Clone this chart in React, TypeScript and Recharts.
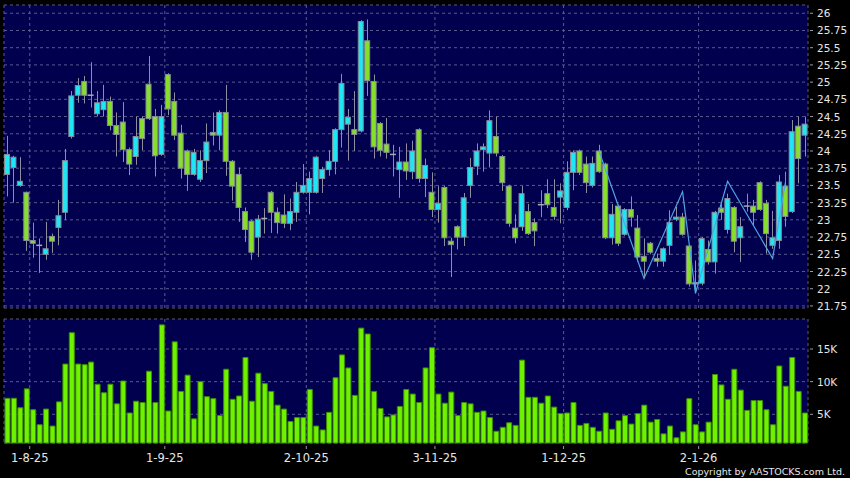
import { Bar, CartesianGrid, ComposedChart, Line, XAxis, YAxis } from 'recharts'

// daily candles, oldest first (one trading day per entry)
const opens = [
  23.66, 23.76, 23.5, 23.4, 22.7, 22.63, 22.5, 22.76, 22.89, 23.11, 24.21, 24.81, 25.01, 24.81, 24.54, 24.6, 24.72, 24.37, 24.42, 24.02,
  23.92, 24.47, 24.97, 24.5, 23.95, 25.11, 24.72, 24.26, 24.0, 23.66, 23.59, 23.86, 24.27, 24.23, 24.56, 23.85, 23.66, 23.12, 22.98, 22.75,
  23.02, 23.4, 23.11, 23.07, 22.95, 23.11, 23.4, 23.4, 23.4, 23.6, 23.73, 23.85, 24.31, 24.39, 24.31, 24.29, 25.6, 25.01, 24.4, 24.1,
  23.95, 23.73, 23.84, 23.7, 24.31, 23.6, 23.4, 23.15, 23.47, 22.69, 22.9, 22.75, 23.5, 23.78, 24.02, 23.97, 24.21, 23.92, 23.49, 22.88,
  22.9, 23.12, 22.96, 23.22, 23.38, 23.18, 23.33, 23.18, 23.69, 24.0, 23.81, 23.5, 24.0, 23.81, 22.74, 23.2, 22.79, 23.15, 22.88, 22.47,
  22.66, 22.44, 22.4, 22.63, 23.01, 23.04, 22.62, 22.07, 22.08, 22.57, 22.39, 23.17, 22.86, 23.18, 22.74, 23.2, 23.2, 23.54, 23.24, 22.63,
  22.7, 23.49, 23.12, 24.36, 24.23,
]
const highs = [
  24.22, 23.93, 23.91, 23.41, 22.96, 22.73, 22.97, 22.8, 23.29, 24.03, 24.87, 25.06, 25.09, 25.29, 24.87, 24.96, 24.79, 24.56, 24.71, 24.05,
  24.5, 24.5, 25.38, 24.61, 24.67, 25.13, 24.85, 24.38, 24.02, 24.03, 24.01, 24.4, 24.56, 24.59, 24.96, 23.87, 23.76, 23.18, 23.0, 23.07,
  23.17, 23.42, 23.18, 23.37, 23.31, 23.55, 23.81, 23.7, 23.93, 23.77, 24.01, 24.33, 25.12, 24.61, 24.87, 25.9, 25.91, 25.11, 24.42, 24.48,
  24.09, 24.06, 24.11, 24.15, 24.33, 23.89, 23.69, 23.49, 23.49, 22.74, 22.92, 23.39, 23.9, 24.11, 24.11, 24.59, 24.5, 23.94, 23.51, 23.08,
  23.49, 23.23, 23.02, 23.43, 23.59, 23.59, 23.53, 23.85, 24.01, 24.02, 23.92, 23.92, 24.09, 23.83, 23.23, 23.22, 23.17, 23.34, 23.07, 22.73,
  22.68, 22.51, 22.6, 23.14, 23.19, 23.1, 22.64, 22.41, 22.75, 22.7, 23.13, 23.24, 23.38, 23.2, 23.04, 23.38, 23.29, 23.56, 23.29, 23.13,
  23.65, 23.7, 24.45, 24.5, 24.5,
]
const lows = [
  23.34, 23.25, 23.48, 22.55, 22.45, 22.23, 22.42, 22.52, 22.63, 23.0, 24.18, 24.7, 24.69, 24.63, 24.5, 24.5, 24.3, 23.92, 23.84, 23.65,
  23.8, 24.01, 24.45, 23.63, 23.93, 24.52, 24.16, 23.6, 23.42, 23.64, 23.55, 23.68, 24.08, 24.01, 23.64, 23.28, 22.97, 22.68, 22.42, 22.46,
  22.8, 22.81, 22.8, 22.88, 22.85, 22.97, 23.38, 23.08, 23.38, 23.39, 23.64, 23.66, 24.05, 23.86, 24.0, 24.27, 24.8, 23.89, 23.92, 23.89,
  23.63, 23.32, 23.58, 23.59, 23.54, 23.33, 23.04, 22.96, 22.62, 22.17, 22.57, 22.62, 23.32, 23.65, 23.7, 23.76, 23.92, 23.42, 22.9, 22.66,
  22.84, 22.78, 22.62, 23.04, 23.17, 23.0, 22.95, 23.14, 23.43, 23.65, 23.39, 23.47, 23.68, 22.72, 22.64, 22.62, 22.77, 22.9, 22.39, 22.15,
  22.5, 22.32, 22.32, 22.49, 22.98, 22.77, 22.03, 21.94, 22.05, 22.35, 22.22, 23.0, 22.8, 22.53, 22.39, 23.12, 22.91, 23.13, 22.51, 22.58,
  22.58, 22.9, 23.1, 23.53, 23.92,
]
const closes = [
  23.95, 23.91, 23.56, 22.7, 22.66, 22.63, 22.58, 22.69, 23.06, 23.86, 24.8, 24.95, 24.81, 24.81, 24.7, 24.72, 24.37, 24.24, 24.02, 23.81,
  24.21, 24.18, 24.47, 23.93, 24.5, 24.61, 24.23, 23.75, 23.66, 23.98, 23.86, 24.13, 24.23, 24.56, 23.85, 23.49, 23.18, 22.86, 22.53, 23.01,
  23.02, 23.11, 22.96, 22.95, 23.12, 23.4, 23.5, 23.6, 23.91, 23.73, 23.85, 24.31, 24.98, 24.49, 24.24, 25.88, 25.02, 24.06, 24.01, 23.98,
  23.95, 23.84, 23.71, 24.0, 23.6, 23.79, 23.15, 23.24, 22.74, 22.64, 22.75, 23.32, 23.76, 24.0, 24.06, 24.44, 23.97, 23.54, 22.95, 22.74,
  23.38, 22.8, 22.84, 23.22, 23.22, 23.05, 23.42, 23.69, 23.98, 23.69, 23.54, 23.82, 23.7, 22.74, 23.08, 22.66, 23.15, 23.04, 22.46, 22.4,
  22.53, 22.4, 22.58, 22.96, 23.04, 22.79, 22.07, 22.09, 22.73, 22.39, 23.11, 23.11, 23.31, 22.69, 22.9, 23.2, 23.11, 23.15, 22.8, 22.74,
  23.55, 23.05, 24.28, 23.89, 24.39,
]
const volumes = [
  7450, 7450, 6000, 8900, 5700, 3400, 5800, 3200, 6900, 12700, 17500, 12700, 12600, 13000, 9600, 8300, 9600, 6600, 10100, 5200,
  7000, 6800, 11600, 6800, 18700, 5500, 16100, 8500, 11000, 4300, 10000, 7700, 7400, 4800, 11900, 7300, 7800, 13700, 7000, 11300,
  9700, 8500, 6400, 5800, 3900, 4500, 4500, 8800, 3200, 2600, 5300, 10600, 14100, 12100, 7900, 18200, 17300, 8500, 5900, 4600,
  4900, 6200, 8800, 8100, 6800, 12100, 15200, 8100, 6700, 8400, 4800, 6800, 6600, 5300, 5500, 4500, 2400, 3000, 3700, 3300,
  13300, 7600, 7600, 6700, 7800, 6100, 5100, 5200, 6800, 3300, 3600, 3000, 2400, 5200, 2700, 4000, 4800, 3500, 5100, 6400,
  3800, 4200, 2000, 3200, 1400, 2300, 7400, 3400, 2300, 3800, 11100, 9500, 7300, 11900, 8700, 5600, 7100, 7100, 5700, 3400,
  12400, 9300, 13700, 8500, 5200,
]

// first trading day of each month -> label
const tickBars = [3, 24, 46, 66, 86, 107]
const tickLabels = ['1-8-25', '1-9-25', '2-10-25', '3-11-25', '1-12-25', '2-1-26']
const priceTicks = [21.75, 22, 22.25, 22.5, 22.75, 23, 23.25, 23.5, 23.75, 24, 24.25, 24.5, 24.75, 25, 25.25, 25.5, 25.75, 26]
const volumeTicks = [5000, 10000, 15000]

// zig-zag pattern line drawn over the last weeks
const patternBars = [92, 99, 105, 107, 112, 119, 121]
const patternPrices = [24.0, 22.15, 23.41, 21.93, 23.56, 22.44, 23.55]

const candles = opens.map((open, i) => ({
  i,
  open,
  high: highs[i],
  low: lows[i],
  close: closes[i],
  volume: volumes[i],
}))
const pattern = patternBars.map((i, k) => ({ i, v: patternPrices[k] }))
const gridX = tickBars.map((b) => b + 0.5)

const NAVY = '#00004f'
const GRID = '#5a5a8e'
const TEXT = '#e6e6e6'
const UP = '#1fe6f4'
const DOWN = '#86e02a'
const FONT = 'DejaVu Sans'

function Candle(props: any) {
  const { x, y, width, height, payload } = props
  if (x == null || !payload) return null
  const top = Math.min(y, y + height)
  const span = Math.abs(height)
  const unit = span / (payload.high - payload.low)
  const py = (v: number) => top + (payload.high - v) * unit
  const cx = Math.round(x + width / 2) + 0.5
  const bodyTop = py(Math.max(payload.open, payload.close))
  const bodyBot = py(Math.min(payload.open, payload.close))
  const wick = <line x1={cx} x2={cx} y1={top} y2={top + span} stroke="#8e8e9e" strokeWidth={1} />
  if (payload.open === payload.close) {
    return (
      <g>
        {wick}
        <line x1={x} x2={x + width} y1={bodyTop} y2={bodyTop} stroke="#a8a8b4" strokeWidth={1.5} />
      </g>
    )
  }
  return (
    <g>
      {wick}
      <rect
        x={x + 0.5}
        y={bodyTop}
        width={width - 1}
        height={Math.max(bodyBot - bodyTop, 1.5)}
        fill={payload.close > payload.open ? UP : DOWN}
        stroke="#858c96"
        strokeWidth={1}
      />
    </g>
  )
}

function RightTick(props: any) {
  const { x, y, payload, fmt } = props
  return (
    <g>
      <line x1={x + 2} x2={x + 5} y1={y} y2={y} stroke="#9a9aa6" />
      <text x={x + 9} y={y} dy={4} fill={TEXT} fontSize={10.5} fontFamily={FONT}>
        {fmt(payload.value)}
      </text>
    </g>
  )
}

function DateTick(props: any) {
  const { x, y, payload } = props
  const k = gridX.indexOf(payload.value)
  return (
    <g>
      <line x1={x} x2={x} y1={y + 3} y2={y + 6} stroke="#9a9aa6" />
      <text x={x} y={y + 19} textAnchor="middle" fill={TEXT} fontSize={11.5} fontFamily={FONT}>
        {tickLabels[k]}
      </text>
    </g>
  )
}

export default function App() {
  return (
    <div style={{ position: 'fixed', left: 0, top: 0, width: 850, height: 478, background: '#000', overflow: 'hidden' }}>
      <div style={{ position: 'absolute', left: 0, top: 0 }}>
        <ComposedChart width={850} height={315} data={candles} margin={{ top: 5, right: 0, bottom: 7, left: 4 }}>
          <CartesianGrid fill={NAVY} stroke={GRID} strokeDasharray="3 3" />
          <XAxis type="number" dataKey="i" domain={[-0.5, 124.5]} ticks={gridX} hide />
          <YAxis
            orientation="right"
            width={42}
            domain={[21.72, 26.12]}
            ticks={priceTicks}
            axisLine={false}
            tickLine={false}
            tickSize={0}
            tickMargin={0}
            interval={0}
            tick={<RightTick fmt={(v: number) => String(v)} />}
          />
          <Bar dataKey={(d: any) => [d.low, d.high]} barSize={6} shape={<Candle />} isAnimationActive={false} />
          <Line
            data={pattern}
            dataKey="v"
            stroke="#4ea4e4"
            strokeWidth={1.2}
            dot={false}
            activeDot={false}
            isAnimationActive={false}
          />
        </ComposedChart>
      </div>
      <div style={{ position: 'absolute', left: 0, top: 312 }}>
        <ComposedChart width={850} height={166} data={candles} margin={{ top: 7, right: 0, bottom: 0, left: 4 }}>
          <CartesianGrid fill={NAVY} stroke={GRID} strokeDasharray="3 3" />
          <XAxis
            type="number"
            dataKey="i"
            domain={[-0.5, 124.5]}
            ticks={gridX}
            interval={0}
            height={35}
            axisLine={false}
            tickLine={false}
            tickSize={0}
            tickMargin={0}
            tick={<DateTick />}
          />
          <YAxis
            orientation="right"
            width={42}
            domain={[600, 19600]}
            ticks={volumeTicks}
            axisLine={false}
            tickLine={false}
            tickSize={0}
            tickMargin={0}
            interval={0}
            tick={<RightTick fmt={(v: number) => `${v / 1000}K`} />}
          />
          <Bar dataKey="volume" barSize={5} fill="#6ff200" stroke="#3d8c00" strokeWidth={1} isAnimationActive={false} />
        </ComposedChart>
      </div>
      <svg width={850} height={478} style={{ position: 'absolute', left: 0, top: 0, pointerEvents: 'none' }}>
        <text x={845} y={475} textAnchor="end" fill={TEXT} fontSize={9.5} fontFamily={FONT}>
          Copyright by AASTOCKS.com Ltd.
        </text>
      </svg>
    </div>
  )
}
